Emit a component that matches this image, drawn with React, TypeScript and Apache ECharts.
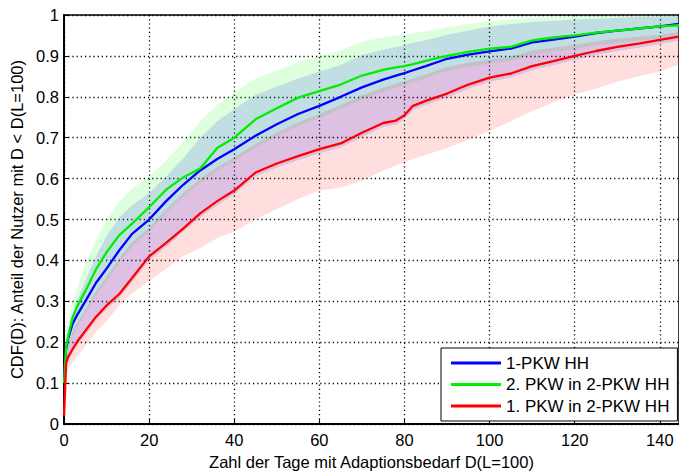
import React, { useEffect, useRef } from "react";
import * as echarts from "echarts";

const days = [0, 0.5, 1, 2, 3, 5, 7.5, 10, 13, 16, 20, 24, 28, 32, 36, 40, 45, 50, 55, 60, 65, 70, 75, 78, 80, 82, 85, 90, 95, 100, 105, 110, 115, 120, 125, 130, 135, 140, 144.5];

const blueLine = [0.12, 0.185, 0.21, 0.245, 0.265, 0.30, 0.345, 0.38, 0.425, 0.465, 0.50, 0.545, 0.585, 0.62, 0.648, 0.672, 0.705, 0.733, 0.758, 0.778, 0.80, 0.823, 0.842, 0.852, 0.858, 0.865, 0.875, 0.893, 0.903, 0.911, 0.918, 0.933, 0.94, 0.947, 0.956, 0.962, 0.967, 0.972, 0.978];
const greenLine = [0.10, 0.19, 0.215, 0.26, 0.285, 0.325, 0.378, 0.42, 0.462, 0.49, 0.53, 0.573, 0.603, 0.625, 0.675, 0.70, 0.745, 0.772, 0.798, 0.814, 0.83, 0.852, 0.866, 0.872, 0.875, 0.88, 0.888, 0.90, 0.91, 0.918, 0.922, 0.938, 0.945, 0.95, 0.957, 0.962, 0.967, 0.972, 0.975];
const redLine = [0.02, 0.15, 0.165, 0.183, 0.2, 0.228, 0.262, 0.29, 0.318, 0.357, 0.41, 0.443, 0.478, 0.515, 0.545, 0.571, 0.615, 0.637, 0.655, 0.672, 0.686, 0.712, 0.736, 0.742, 0.755, 0.778, 0.79, 0.808, 0.83, 0.847, 0.857, 0.875, 0.887, 0.90, 0.912, 0.922, 0.93, 0.939, 0.947];

const greenUpper = [0.12, 0.22, 0.25, 0.30, 0.33, 0.39, 0.45, 0.50, 0.545, 0.575, 0.605, 0.645, 0.69, 0.74, 0.78, 0.81, 0.845, 0.865, 0.885, 0.90, 0.913, 0.935, 0.945, 0.95, 0.952, 0.956, 0.96, 0.97, 0.978, 0.985, 0.99, 0.993, 0.995, 0.997, 0.998, 0.999, 1, 1, 1];
const greenLower = [0.09, 0.155, 0.18, 0.215, 0.235, 0.27, 0.315, 0.35, 0.395, 0.435, 0.47, 0.515, 0.555, 0.59, 0.618, 0.642, 0.675, 0.703, 0.728, 0.748, 0.77, 0.793, 0.812, 0.822, 0.828, 0.835, 0.845, 0.863, 0.873, 0.881, 0.888, 0.903, 0.91, 0.917, 0.926, 0.932, 0.937, 0.942, 0.948];
const blueUpper = [0.11, 0.2, 0.23, 0.27, 0.3, 0.35, 0.41, 0.46, 0.505, 0.535, 0.565, 0.605, 0.65, 0.70, 0.74, 0.77, 0.805, 0.825, 0.845, 0.862, 0.878, 0.902, 0.915, 0.922, 0.926, 0.932, 0.938, 0.952, 0.962, 0.972, 0.978, 0.983, 0.986, 0.989, 0.991, 0.993, 0.995, 0.996, 0.997];
const blueLower = [0.01, 0.14, 0.155, 0.173, 0.19, 0.218, 0.252, 0.28, 0.308, 0.347, 0.40, 0.433, 0.47, 0.505, 0.535, 0.561, 0.605, 0.627, 0.645, 0.662, 0.676, 0.702, 0.726, 0.732, 0.745, 0.768, 0.78, 0.798, 0.82, 0.837, 0.847, 0.865, 0.877, 0.89, 0.902, 0.912, 0.92, 0.929, 0.937];
const redUpper = [0.1, 0.165, 0.19, 0.225, 0.245, 0.28, 0.325, 0.36, 0.405, 0.445, 0.48, 0.525, 0.565, 0.60, 0.628, 0.652, 0.685, 0.713, 0.738, 0.758, 0.78, 0.803, 0.822, 0.832, 0.838, 0.845, 0.855, 0.873, 0.883, 0.891, 0.898, 0.913, 0.92, 0.927, 0.936, 0.942, 0.947, 0.952, 0.958];
const redLower = [0.0, 0.12, 0.135, 0.15, 0.165, 0.19, 0.225, 0.252, 0.29, 0.32, 0.35, 0.38, 0.41, 0.43, 0.455, 0.47, 0.5, 0.525, 0.55, 0.571, 0.578, 0.595, 0.62, 0.632, 0.64, 0.648, 0.658, 0.675, 0.695, 0.717, 0.74, 0.765, 0.787, 0.806, 0.82, 0.837, 0.85, 0.862, 0.879];

const names = ["1-PKW HH", "2. PKW in 2-PKW HH", "1. PKW in 2-PKW HH"];
const xTitle = "Zahl der Tage mit Adaptionsbedarf D(L=100)";
const yTitle = "CDF(D): Anteil der Nutzer mit D < D(L=100)";

const FONT = "'Liberation Sans', Arial, sans-serif";

function pairs(ys: number[]) {
  return days.map((d, i) => [d, ys[i]]);
}

function band(id: string, lo: number[], up: number[], color: string) {
  return {
    type: "custom",
    name: id,
    coordinateSystem: "cartesian2d",
    silent: true,
    z: 1,
    clip: true,
    data: [[0, 0]],
    renderItem: (params: any, api: any) => {
      const pts: number[][] = [];
      for (let i = 0; i < days.length; i++) pts.push(api.coord([days[i], up[i]]));
      for (let i = days.length - 1; i >= 0; i--) pts.push(api.coord([days[i], lo[i]]));
      return {
        type: "polygon",
        shape: { points: pts },
        style: { fill: color, stroke: "none" },
      };
    },
  };
}

export default function App() {
  const ref = useRef<HTMLDivElement>(null);
  useEffect(() => {
    document.body.style.margin = "0";
    const chart = echarts.init(ref.current!, undefined, { renderer: "svg" });
    const lineSeries = (name: string, ys: number[], color: string) => ({
      type: "line",
      name,
      data: pairs(ys),
      showSymbol: false,
      symbol: "none",
      lineStyle: { color, width: 2.3 },
      itemStyle: { color },
      z: 5,
    });
    const gridLine = { show: true, lineStyle: { color: "#000", type: [1.2, 3], width: 1.3 } };
    chart.setOption({
      animation: false,
      backgroundColor: "#fff",
      textStyle: { fontFamily: FONT },
      grid: { left: 64, right: 0, top: 15, bottom: 48, show: true, borderColor: "#000", borderWidth: 1.5 },
      legend: {
        data: names.map((n) => ({ name: n, icon: "rect" })),
        orient: "vertical",
        left: 441,
        top: 348,
        padding: [6, 8, 6, 10],
        itemGap: 3.5,
        itemWidth: 50,
        itemHeight: 3,
        backgroundColor: "#fff",
        borderColor: "#000",
        borderWidth: 1,
        borderRadius: 0,
        textStyle: { fontSize: 17, color: "#000", fontFamily: FONT, lineHeight: 18 },
      },
      xAxis: {
        type: "value",
        min: 0,
        max: 144.5,
        interval: 20,
        name: xTitle,
        nameLocation: "middle",
        nameGap: 27,
        nameTextStyle: { fontSize: 16.5, color: "#000", fontFamily: FONT },
        axisLine: { lineStyle: { color: "#000", width: 2 } },
        axisTick: { inside: true, length: 5, lineStyle: { color: "#000" } },
        axisLabel: { fontSize: 16.5, color: "#000", margin: 7, fontFamily: FONT },
        splitLine: gridLine,
      },
      yAxis: {
        type: "value",
        min: 0,
        max: 1,
        interval: 0.1,
        name: yTitle,
        nameLocation: "middle",
        nameGap: 39,
        nameRotate: 90,
        nameTextStyle: { fontSize: 16.5, color: "#000", fontFamily: FONT },
        axisLine: { lineStyle: { color: "#000", width: 2 } },
        axisTick: { inside: true, length: 5, lineStyle: { color: "#000" } },
        axisLabel: { fontSize: 16.5, color: "#000", margin: 5, fontFamily: FONT, formatter: (v: number) => String(Math.round(v * 10) / 10) },
        splitLine: gridLine,
      },
      series: [
        band("greenBand", greenLower, greenUpper, "rgba(0,255,0,0.13)"),
        band("redBand", redLower, redUpper, "rgba(255,0,0,0.13)"),
        band("blueBand", blueLower, blueUpper, "rgba(0,0,255,0.13)"),
        lineSeries(names[0], blueLine, "#0000ff"),
        lineSeries(names[1], greenLine, "#00ee00"),
        lineSeries(names[2], redLine, "#ff0000"),
      ],
    });
    return () => chart.dispose();
  }, []);
  return <div ref={ref} style={{ position: "fixed", left: 0, top: 0, width: 679, height: 475 }} />;
}
